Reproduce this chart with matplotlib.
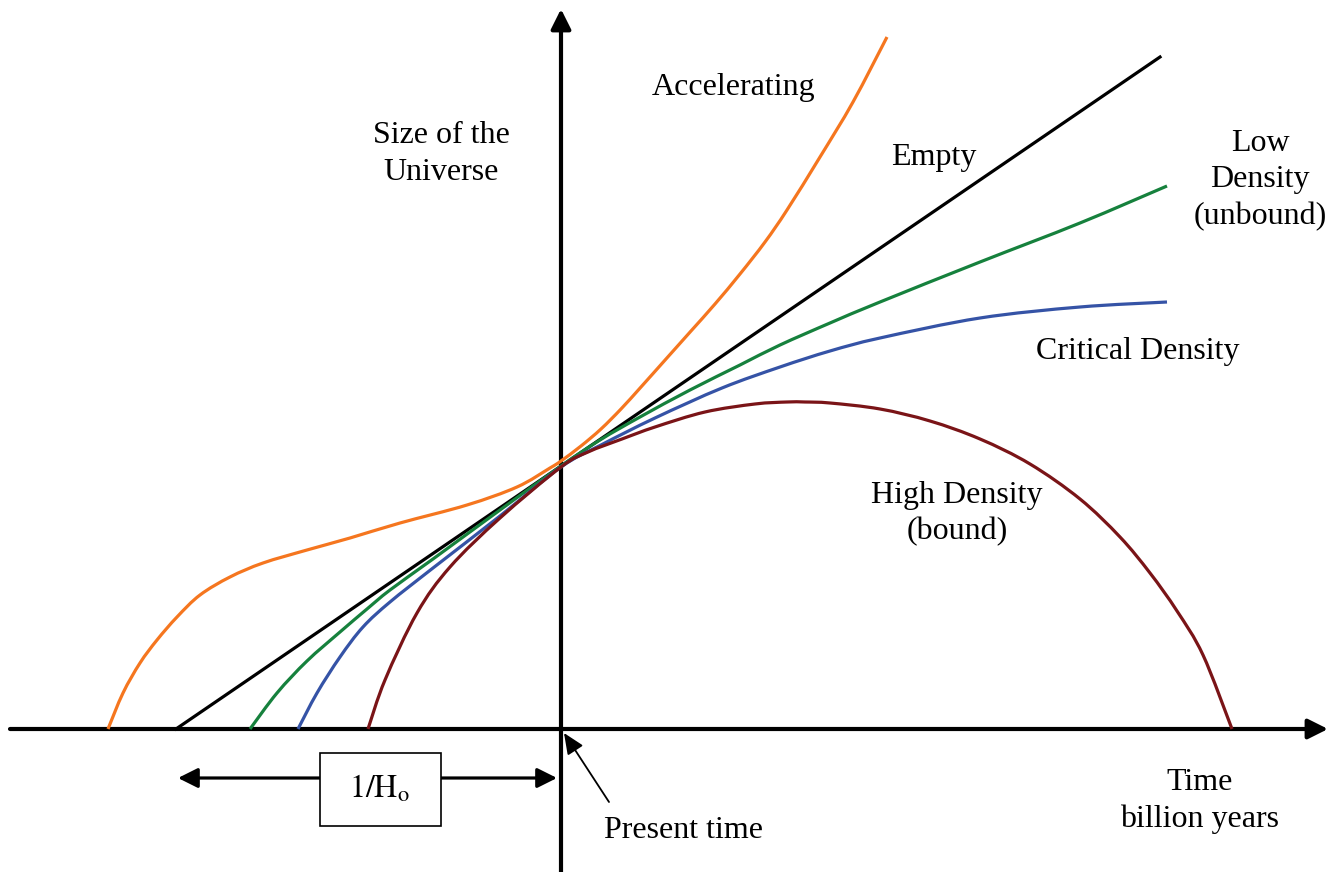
import matplotlib
matplotlib.use("Agg")
import matplotlib.pyplot as plt
from matplotlib.patches import Rectangle, PathPatch
from matplotlib.path import Path

# ---- data (time relative to present, size of universe; arbitrary units) ----
acc_t = [-453, -438, -421, -404, -384, -361, -331, -298, -254, -211, -161, -94, -44, -11,
         0, 20, 40, 60, 80, 105, 130, 154, 179, 204, 226, 259, 292, 326]
acc_s = [0, 36, 66, 89, 112, 134, 152, 166, 179, 191, 206, 224, 242, 261,
         268, 283, 300, 320, 342, 370, 398, 425, 455, 487, 519, 572, 627, 692]

empty_t = [-385, 599]
empty_s = [0, 672]

low_t = [-311, -284, -254, -221, -194, -171, -128, -61, 0, 39, 79, 129, 179, 219, 269, 319, 419, 519, 606]
low_s = [0, 36, 68, 97, 120, 139, 170, 219, 263, 289, 312, 339, 364, 384, 406, 427, 467, 506, 543]

crit_t = [-263, -244, -221, -198, -171, -128, -61, 0, 40, 94, 161, 219, 269, 319, 419, 519, 606]
crit_s = [0, 36, 72, 102, 127, 161, 213, 262, 284, 311, 341, 362, 378, 391, 411, 422, 427]

high_t = [-193, -176, -144, -111, -61, 0, 27, 61, 94, 144, 194, 226, 244, 269, 319,
          369, 419, 469, 519, 559, 589, 616, 642, 671]
high_s = [0, 49, 116, 162, 211, 262, 277, 290, 302, 317, 325, 327, 327, 326, 320,
          308, 290, 265, 230, 192, 156, 118, 74, 0]

curve_labels = ["Accelerating", "Empty", "Low\nDensity\n(unbound)", "Critical Density", "High Density\n(bound)"]

FONT = "Liberation Serif"
plt.rcParams["font.family"] = [FONT, "DejaVu Serif"]
plt.rcParams["mathtext.fontset"] = "stix"

fig = plt.figure(figsize=(13.44, 8.72), dpi=100)
ax = fig.add_axes([0, 0, 1, 1])
ax.set_xlim(-561, 783)
ax.set_ylim(-143, 729)
ax.axis("off")


def smooth_curve(ax, xs, ys, **kw):
    """Draw a smooth curve through the read points using cubic Bezier segments."""
    pts = list(zip(xs, ys))
    n = len(pts)
    verts = [pts[0]]
    codes = [Path.MOVETO]
    for i in range(n - 1):
        p0 = pts[i - 1] if i > 0 else pts[i]
        p1 = pts[i]
        p2 = pts[i + 1]
        p3 = pts[i + 2] if i + 2 < n else pts[i + 1]
        c1 = (p1[0] + (p2[0] - p0[0]) / 6.0, p1[1] + (p2[1] - p0[1]) / 6.0)
        c2 = (p2[0] - (p3[0] - p1[0]) / 6.0, p2[1] - (p3[1] - p1[1]) / 6.0)
        verts += [c1, c2, p2]
        codes += [Path.CURVE4] * 3
    patch = PathPatch(Path(verts, codes), facecolor="none", **kw)
    ax.add_patch(patch)


# axes with arrows
ax.annotate("", xy=(767, 0), xytext=(-551, 0),
            arrowprops=dict(arrowstyle="-|>,head_length=0.6,head_width=0.3", lw=3, color="k",
                            mutation_scale=20, shrinkA=0, shrinkB=0), zorder=3)
ax.annotate("", xy=(0, 720), xytext=(0, -143),
            arrowprops=dict(arrowstyle="-|>,head_length=0.6,head_width=0.3", lw=3, color="k",
                            mutation_scale=20, shrinkA=0, shrinkB=0), zorder=3)

lw = 2.3
smooth_curve(ax, acc_t, acc_s, edgecolor="#F5761F", lw=lw, zorder=4)
ax.plot(empty_t, empty_s, color="black", lw=lw, zorder=4)
smooth_curve(ax, low_t, low_s, edgecolor="#16813D", lw=lw, zorder=4)
smooth_curve(ax, crit_t, crit_s, edgecolor="#3553A6", lw=lw, zorder=4)
smooth_curve(ax, high_t, high_s, edgecolor="#7A1417", lw=lw, zorder=4)

fs = 23
ls = 1.32
ax.text(173, 641, curve_labels[0], fontsize=fs, ha="center", va="center")
ax.text(373, 571, curve_labels[1], fontsize=fs, ha="center", va="center")
ax.text(699, 549, curve_labels[2], fontsize=fs, ha="center", va="center", linespacing=ls)
ax.text(577, 378, curve_labels[3], fontsize=fs, ha="center", va="center")
ax.text(396, 215, curve_labels[4], fontsize=fs, ha="center", va="center", linespacing=ls)
ax.text(-120, 575, "Size of the\nUniverse", fontsize=fs, ha="center", va="center", linespacing=ls)
ax.text(639, -72, "Time\nbillion years", fontsize=fs, ha="center", va="center", linespacing=ls)
ax.text(122, -101, "Present time", fontsize=fs, ha="center", va="center")

# 1/H0 double arrow with box
ax.annotate("", xy=(-383, -49), xytext=(-4, -49),
            arrowprops=dict(arrowstyle="<|-|>,head_length=0.6,head_width=0.3", lw=2.3, color="k",
                            mutation_scale=20, shrinkA=0, shrinkB=0), zorder=3)
ax.add_patch(Rectangle((-241, -97), 121, 73, facecolor="white", edgecolor="black", lw=1.2, zorder=5))
ax.text(-181, -60, r"$\mathrm{1/H_o}$", fontsize=fs, ha="center", va="center", zorder=6)

# present time pointer
ax.annotate("", xy=(3, -4), xytext=(48, -73),
            arrowprops=dict(arrowstyle="-|>,head_length=0.8,head_width=0.35", lw=1.3, color="k",
                            mutation_scale=16, shrinkA=0, shrinkB=0), zorder=6)

fig.savefig("out.png", dpi=100)
